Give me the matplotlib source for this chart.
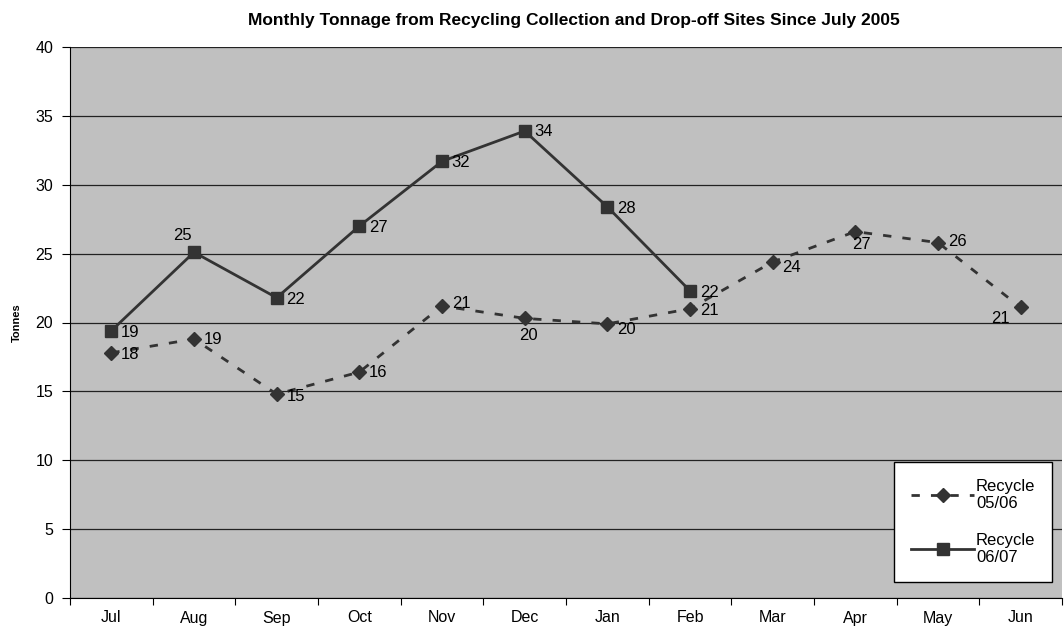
import matplotlib
matplotlib.use("Agg")
import matplotlib.pyplot as plt
import numpy as np

months = ["Jul", "Aug", "Sep", "Oct", "Nov", "Dec", "Jan", "Feb", "Mar", "Apr", "May", "Jun"]
recycle_0506 = [17.8, 18.8, 14.8, 16.4, 21.2, 20.3, 19.9, 21.0, 24.4, 26.6, 25.8, 21.1]
recycle_0607 = [19.4, 25.1, 21.8, 27.0, 31.7, 33.9, 28.4, 22.3]
yticks = [0, 5, 10, 15, 20, 25, 30, 35, 40]

# label offsets in points (Excel put them in odd places)
off_0506 = [(7, -1), (7, 0), (7, -2), (7, 0), (7, 2), (-4, -12), (7, -4), (7, -1), (7, -4), (-2, -9), (7, 1), (-21, -8)]
off_0607 = [(7, -1), (-15, 12), (7, -1), (7, -1), (7, -1), (7, 0), (7, -1), (7, -1)]

plt.rcParams['font.family'] = ['Liberation Sans', 'DejaVu Sans']
fig = plt.figure(figsize=(10.64, 6.3), dpi=100)
ax = fig.add_axes([70/1064, 1-598/630, 992/1064, 551/630])
ax.set_facecolor("#c0c0c0")

x1 = np.arange(len(recycle_0506))
x2 = np.arange(len(recycle_0607))
c = "#333333"
ax.plot(x1, recycle_0506, color=c, lw=2, ls=(0, (3, 4)), marker="D", ms=7, label="Recycle\n05/06")
ax.plot(x2, recycle_0607, color=c, lw=2, ls="-", marker="s", ms=9, label="Recycle\n06/07")

for xi, v, o in zip(x1, recycle_0506, off_0506):
    ax.annotate(str(int(round(v))), (xi, v), xytext=o, textcoords="offset points", fontsize=12, va="center")
for xi, v, o in zip(x2, recycle_0607, off_0607):
    ax.annotate(str(int(round(v))), (xi, v), xytext=o, textcoords="offset points", fontsize=12, va="center")

ax.set_ylim(0, 40)
ax.set_xlim(-0.5, len(months) - 0.5)
ax.set_yticks(yticks)
ax.set_xticks(np.arange(len(months) + 1) - 0.5)
ax.set_xticklabels([])
ax.set_xticks(x1, minor=True)
ax.set_xticklabels(months, minor=True)
ax.tick_params(axis="x", which="minor", length=0, pad=9, labelsize=11.5)
ax.tick_params(axis="x", which="major", length=5, direction="out")
ax.tick_params(axis="y", length=6, direction="out", labelsize=11.5, pad=6)
ax.yaxis.grid(True, color="#222222", lw=0.9)
ax.set_axisbelow(True)
for s in ["top", "right"]:
    ax.spines[s].set_visible(False)

ax.set_ylabel("Tonnes", fontsize=8, fontweight="bold", labelpad=10)
fig.text(574/1064, 1 - 20/630, "Monthly Tonnage from Recycling Collection and Drop-off Sites Since July 2005",
         ha="center", va="center", fontsize=12.5, fontweight="bold")

leg = ax.legend(loc="lower right", bbox_to_anchor=(0.99, 0.029), fontsize=12, fancybox=False,
                framealpha=1, edgecolor="black", handlelength=3.8, labelspacing=1.3,
                borderpad=1.0, handletextpad=0.1, borderaxespad=0)
leg.get_frame().set_linewidth(1)

fig.savefig("out.png", dpi=100)
